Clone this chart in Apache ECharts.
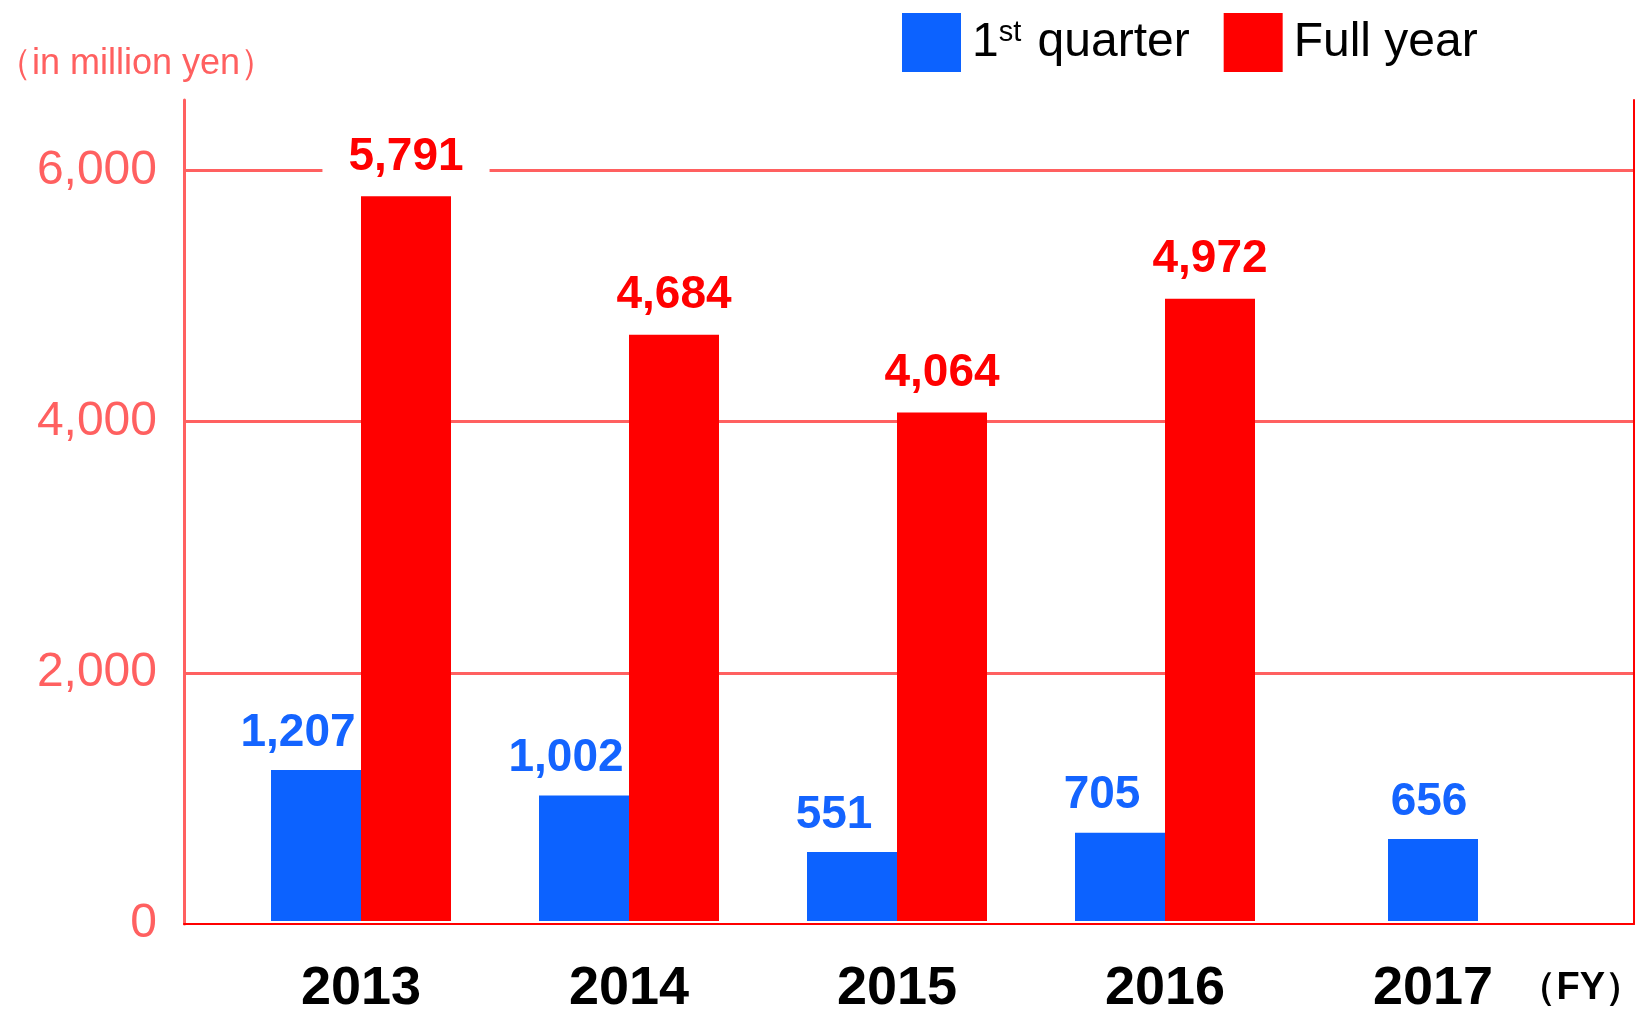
<!DOCTYPE html>
<html>
<head>
<meta charset="utf-8">
<script src="https://cdn.jsdelivr.net/npm/echarts@6/dist/echarts.min.js"></script>
<style>
html,body{margin:0;padding:0;background:#fff;}
#chart{width:1643px;height:1016px;}
</style>
</head>
<body>
<div id="chart"></div>
<script>
const categories = ['2013', '2014', '2015', '2016', '2017'];
const firstQuarter = [1207, 1002, 551, 705, 656];
const fullYear = [5791, 4684, 4064, 4972, null];
const yTicks = [0, 2000, 4000, 6000];
const unitLabel = '（in million yen）';
const fyLabel = '（FY）';

const FONT = '"Liberation Sans", Arial, sans-serif';
const SALMON = '#ff6060';
const RED = '#ff0000';
const BLUE = '#0c62ff';
const Y_MAX = 6560;
const TICK_STEP = yTicks[1] - yTicks[0];

// pairs where a full-year value exists, and solo first-quarter bars otherwise
const q1Paired = firstQuarter.map((v, i) => fullYear[i] == null ? null : v);
const q1Solo = firstQuarter.map((v, i) => fullYear[i] == null ? v : null);

const chart = echarts.init(document.getElementById('chart'), null, {renderer: 'canvas'});

const fmt = p => p.value == null ? '' : Number(p.value).toLocaleString('en-US');
const blueLabelBase = {
  show: true, position: 'top', distance: 14,
  color: '#1464ff', fontFamily: FONT, fontWeight: 'bold', fontSize: 46,
  formatter: fmt
};
const blueLabelPaired = Object.assign({}, blueLabelBase, {offset: [-18, 0]});
const blueLabelSolo = Object.assign({}, blueLabelBase, {offset: [-4, 0]});
const redLabel = {
  show: true, position: 'top', distance: 16,
  color: RED, fontFamily: FONT, fontWeight: 'bold', fontSize: 46,
  backgroundColor: '#ffffff', padding: [4, 26, 0, 26],
  formatter: fmt
};

const option = {
  backgroundColor: '#ffffff',
  animation: false,
  legend: {
    data: ['1st quarter', 'Full year'],
    left: 897, top: 8,
    icon: 'rect', itemWidth: 59, itemHeight: 59, itemGap: 34,
    formatter: name => name === '1st quarter' ? '1{sup|st} quarter' : name,
    textStyle: {
      fontFamily: FONT, fontSize: 48, color: '#000', padding: [0, 0, 0, 6],
      rich: {
        sup: {fontFamily: FONT, fontSize: 29, color: '#000', verticalAlign: 'top', padding: [0, 3, 20, 0]}
      }
    }
  },
  graphic: [
    {type: 'text', left: -4, top: 46, style: {text: unitLabel, fontFamily: FONT, fontSize: 36, fill: SALMON}},
    {type: 'text', right: 0, top: 970, style: {text: fyLabel, fontFamily: FONT, fontSize: 38, fontWeight: 'bold', fill: '#000'}}
  ],
  grid: [
    {left: 184, right: 9, top: 100, bottom: 92},
    {left: 227, right: 76, top: 100, bottom: 92}
  ],
  xAxis: [
    {
      gridIndex: 0, type: 'category', data: categories,
      axisLine: {show: true, lineStyle: {color: RED, width: 2}},
      axisTick: {show: false}, axisLabel: {show: false}, splitLine: {show: false}
    },
    {
      gridIndex: 1, type: 'category', data: categories,
      axisLine: {show: false}, axisTick: {show: false},
      axisLabel: {margin: 41, color: '#000', fontFamily: FONT, fontWeight: 'bold', fontSize: 54}
    },
    {
      gridIndex: 1, type: 'category', data: categories, show: false
    }
  ],
  yAxis: [
    {
      gridIndex: 0, type: 'value', min: 0, max: Y_MAX, interval: TICK_STEP,
      axisLine: {show: true, lineStyle: {color: SALMON, width: 3}},
      axisTick: {show: false},
      axisLabel: {
        margin: 27, color: SALMON, fontFamily: FONT, fontSize: 48, showMaxLabel: false,
        formatter: v => yTicks.includes(v) ? v.toLocaleString('en-US') : ''
      },
      splitLine: {show: true, showMinLine: false, showMaxLine: false, lineStyle: {color: SALMON, width: 3}}
    },
    {
      gridIndex: 0, type: 'value', position: 'right', min: 0, max: Y_MAX, interval: TICK_STEP,
      axisLine: {show: true, lineStyle: {color: RED, width: 2}},
      axisTick: {show: false}, axisLabel: {show: false}, splitLine: {show: false}
    },
    {
      gridIndex: 1, type: 'value', min: 0, max: Y_MAX, interval: TICK_STEP, show: false,
      splitLine: {show: false}
    }
  ],
  series: [
    {
      name: '1st quarter', type: 'bar', xAxisIndex: 1, yAxisIndex: 2,
      data: q1Paired, barWidth: 90, barGap: '0%',
      itemStyle: {color: BLUE}, label: blueLabelPaired
    },
    {
      name: 'Full year', type: 'bar', xAxisIndex: 1, yAxisIndex: 2,
      data: fullYear, barWidth: 90, barGap: '0%',
      itemStyle: {color: RED}, label: redLabel
    },
    {
      name: '1st quarter', type: 'bar', xAxisIndex: 2, yAxisIndex: 2,
      data: q1Solo, barWidth: 90,
      itemStyle: {color: BLUE}, label: blueLabelSolo
    }
  ]
};
chart.setOption(option);
</script>
</body>
</html>
